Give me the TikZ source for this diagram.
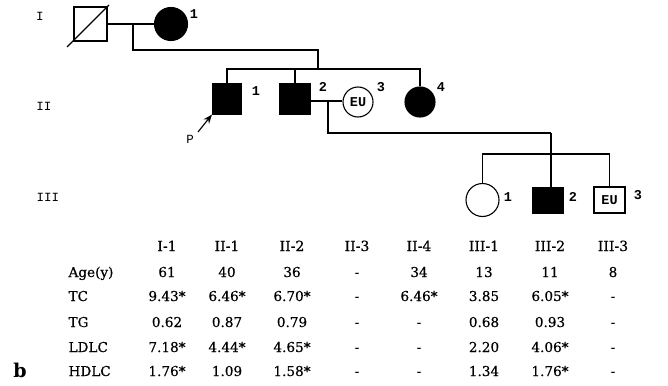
\documentclass[tikz,border=0pt]{standalone}
\usepackage{fontspec}
\setmainfont{DejaVu Serif}
\newfontfamily\tabfont{DejaVu Serif}[FakeBold=0.5]
\newfontfamily\pedfont{Liberation Mono}
\usetikzlibrary{arrows.meta}

\tikzset{
  lw/.style={line width=1.1pt},
  malebox/.style={draw, lw, rectangle, inner sep=0pt, minimum width=#1},
  femalebox/.style={draw, lw, circle, inner sep=0pt, minimum size=#1},
  affected/.style={fill=black},
  genlabel/.style={font=\pedfont\fontsize{12.5}{12.5}\selectfont, inner sep=0pt},
  idlabel/.style={font=\pedfont\bfseries\fontsize{13.5}{13.5}\selectfont, inner sep=0pt},
  eulabel/.style={font=\pedfont\bfseries\fontsize{13.5}{13.5}\selectfont},
  colhead/.style={font=\tabfont\fontsize{14}{14}\selectfont, inner sep=0pt, anchor=base},
  cell/.style={font=\tabfont\fontsize{13.6}{13.6}\selectfont, inner sep=0pt, anchor=base},
  rowhead/.style={font=\tabfont\fontsize{13.6}{13.6}\selectfont, inner sep=0pt, anchor=base west},
}

\begin{document}
\begin{tikzpicture}[x=1pt, y=-1pt, lw]
\useasboundingbox (0,0) rectangle (668,385);

% generation labels
\node[genlabel] (gI)   at (40,16)  {I};
\node[genlabel] (gII)  at (44,106) {II};
\node[genlabel] (gIII) at (48,197) {III};

% generation I
\node[malebox=33, minimum height=34] (i1) at (90.5,24) {};
\draw[lw] (67,47) -- (109,5);
\node[femalebox=33, affected] (i2) at (171,24) {};
\node[idlabel] (li2) at (194,14) {1};
\coordinate (m1) at (133,24);
\coordinate (s1) at (318,50);
\coordinate (s2) at (318,69);
\draw (i1.east) -- (i2.west);
\draw (m1) |- (s1) -- (s2);

% generation II
\node[malebox=29, minimum height=30, affected] (ii1) at (227,99) {};
\node[malebox=31, minimum height=30, affected] (ii2) at (295,99) {};
\node[femalebox=30] (ii3) at (358,102) {};
\node[eulabel, inner sep=0pt] (eu2) at (ii3) {EU};
\node[femalebox=30, affected] (ii4) at (420,102) {};
\node[idlabel] (lii1) at (256,91) {1};
\node[idlabel] (lii2) at (323,87) {2};
\node[idlabel] (lii3) at (381,87) {3};
\node[idlabel] (lii4) at (441,87) {4};
\draw (ii1.north) |- (ii4.north |- s2) -- (ii4.north);
\draw (ii2.north) -- (ii2.north |- s2);

% proband
\coordinate (pa) at (198,132);
\draw[-{Stealth[length=9pt,width=7pt]}] (pa) -- (ii1.south west);
\node[genlabel] (pp) at (190,139) {P};

% marriage II-2 x II-3 and offspring
\coordinate (m2) at (328,101);
\coordinate (s3) at (551,133);
\coordinate (s4) at (551,154);
\draw (ii2.east |- m2) -- (ii3.west |- m2);
\draw (m2) |- (s3);

% generation III
\node[femalebox=33] (iii1) at (482.5,200) {};
\node[malebox=30, minimum height=26, affected] (iii2) at (548,200.5) {};
\node[malebox=31, minimum height=26] (iii3) at (609.5,200) {};
\node[eulabel, inner sep=0pt] (eu3) at (iii3) {EU};
\node[idlabel] (liii1) at (508,197) {1};
\node[idlabel] (liii2) at (573,197) {2};
\node[idlabel] (liii3) at (638,195) {3};
\draw (s3) -- (s3 |- iii2.north);
\draw (iii1.north) |- (iii3.north |- s4) -- (iii3.north);

% lipid table
\foreach \cx/\ct [count=\i] in {167/I-1, 227/II-1, 292/II-2, 357/II-3, 419/II-4, 484/III-1, 550/III-2, 613/III-3}
  \node[colhead] (h\i) at (\cx,251) {\ct};

\foreach \rname/\ry/\vals [count=\r] in {
    Age(y)/277/{61,40,36,-,34,13,11,8},
    TC/301/{9.43*,6.46*,6.70*,-,6.46*,3.85,6.05*,-},
    TG/327/{0.62,0.87,0.79,-,-,0.68,0.93,-},
    LDLC/352/{7.18*,4.44*,4.65*,-,-,2.20,4.06*,-},
    HDLC/376/{1.76*,1.09,1.58*,-,-,1.34,1.76*,-}} {
  \node[rowhead] (rh\r) at (68,\ry) {\rname};
  \foreach \v [count=\c] in \vals
    \node[cell] (v\r-\c) at (h\c |- 0,\ry) {\v};
}

\node[font=\bfseries\fontsize{19}{19}\selectfont, inner sep=0pt, anchor=base] (panel) at (20,377) {b};
\end{tikzpicture}
\end{document}
